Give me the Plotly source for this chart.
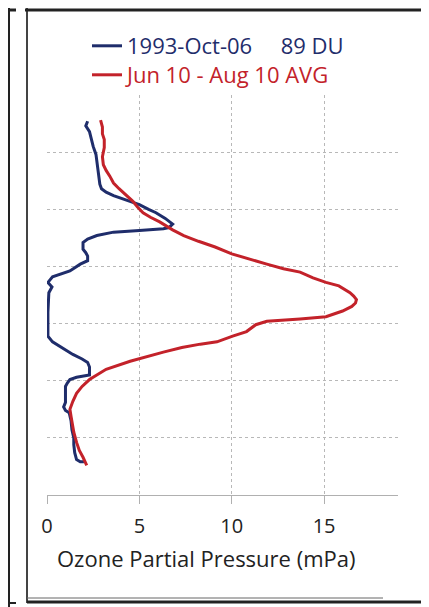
import plotly.graph_objects as go

# ---- data (altitude in km, ozone partial pressure in mPa) ----
oct_alt = [32.7, 32.3, 31.8, 31.1, 30.5, 29.8, 29.2, 28.5, 27.8, 27.2, 26.8, 26.5, 26.2, 25.9,
           25.6, 25.4, 25.0, 24.7, 24.2, 23.7, 23.4, 23.3, 23.15, 23.0, 22.7, 22.4, 22.1, 21.5,
           21.2, 20.9, 20.5, 20.2, 19.6, 19.3, 19.1, 18.6, 18.2, 17.7, 16.0, 14.5, 13.9, 13.4,
           13.2, 12.8, 12.3, 11.9, 11.6, 11.2, 10.8, 10.5, 10.3, 10.1, 9.8, 9.5, 8.8, 8.1, 7.7,
           7.4, 7.2, 6.5, 5.7, 5.0, 4.4, 3.7, 3.1, 2.9, 2.9]
oct_o3 = [2.2, 2.1, 2.3, 2.4, 2.5, 2.65, 2.7, 2.76, 2.8, 2.86, 2.95, 3.2, 3.6, 4.1,
          4.6, 5.0, 5.5, 5.9, 6.4, 6.8, 6.6, 6.3, 5.0, 3.6, 2.7, 2.2, 1.95, 1.95,
          2.1, 2.2, 2.2, 1.8, 1.24, 0.6, 0.3, 0.05, 0.27, 0.1, 0.05, 0.05, 0.05, 0.3,
          0.5, 0.9, 1.4, 1.9, 2.2, 2.3, 2.3, 2.3, 1.6, 1.24, 1.1, 1.0, 1.0, 1.0, 0.9,
          1.0, 1.2, 1.3, 1.35, 1.45, 1.45, 1.5, 1.6, 1.8, 2.0]

avg_alt = [32.8, 32.2, 31.6, 31.1, 30.4, 29.6, 28.9, 28.4, 27.9, 27.3, 26.8, 26.2, 25.7, 25.2,
           24.7, 24.3, 23.9, 23.2, 22.7, 22.2, 21.7, 21.1, 20.6, 20.2, 19.8, 19.5, 19.0, 18.6,
           18.3, 17.7, 17.4, 17.1, 16.8, 16.5, 16.1, 15.8, 15.6, 15.4, 15.3, 15.2, 14.9, 14.3,
           13.9, 13.4, 13.2, 12.9, 12.5, 12.1, 11.7, 11.0, 10.5, 10.1, 9.5, 8.9, 8.2, 7.5, 6.9,
           6.3, 5.5, 4.6, 3.9, 3.3, 2.6]
avg_o3 = [2.9, 3.0, 3.0, 3.1, 3.1, 3.0, 3.05, 3.2, 3.4, 3.6, 3.9, 4.3, 4.65, 4.9,
          5.2, 5.6, 6.1, 6.8, 7.4, 8.2, 9.1, 10.0, 11.0, 11.9, 12.8, 13.7, 14.4, 15.1,
          15.8, 16.4, 16.6, 16.75, 16.7, 16.5, 16.0, 15.5, 15.1, 13.7, 12.8, 11.9, 11.3, 10.8,
          10.05, 9.2, 8.3, 7.3, 6.3, 5.4, 4.5, 3.2, 2.7, 2.3, 1.9, 1.6, 1.4, 1.24, 1.3,
          1.35, 1.45, 1.6, 1.75, 1.95, 2.15]

x_ticks = [0, 5, 10, 15]
y_ticks = [0, 5, 10, 15, 20, 25, 30, 35]
x_title = "Ozone Partial Pressure (mPa)"

BLUE = "#1f2d6b"
RED = "#c3222a"
NB = "\u00a0"

fig = go.Figure()
fig.add_trace(go.Scatter(
    x=oct_o3, y=oct_alt, mode="lines", legend="legend", showlegend=True,
    line=dict(color=BLUE, width=3),
    name=f'<span style="color:{BLUE}">1993-Oct-06{NB*5}89 DU</span>'))
fig.add_trace(go.Scatter(
    x=avg_o3, y=avg_alt, mode="lines", legend="legend2", showlegend=True,
    line=dict(color=RED, width=3),
    name=f'<span style="color:{RED}">Jun 10 - Aug 10 AVG</span>'))

# page body has an 8px margin; the figure is sized to fill the rest
OFF = 8
W, H = 429 - OFF, 607 - OFF
L, R, T, B = 47, 398, 95, 495   # plot area in window pixels

def px(x):
    return (x - L) / (R - L)

def py(y):
    return (B - y) / (B - T)

shapes = []
def seg(x0, y0, x1, y1, w=2, c="#222"):
    shapes.append(dict(type="line", xref="paper", yref="paper",
                       x0=px(x0), y0=py(y0), x1=px(x1), y1=py(y1),
                       line=dict(color=c, width=w)))

# surrounding frames
seg(9, 0, 9, 607, 2)
seg(0, 10, 16, 10, 3)
seg(0, 603, 16, 603, 2)
seg(27, 4, 27, 603, 2, "#444")
seg(25, 10, 425, 10, 3)
seg(423, 4, 423, 603, 2, "#555")
seg(27, 598, 383, 598, 1, "#666")
seg(27, 602, 425, 602, 3)

legend_common = dict(xanchor="left", yanchor="top", font=dict(size=22),
                     bgcolor="rgba(0,0,0,0)", itemwidth=30, visible=True)

fig.update_layout(
    width=W, height=H,
    margin=dict(l=L - OFF, r=429 - R, t=T - OFF, b=607 - B),
    paper_bgcolor="white", plot_bgcolor="white",
    font=dict(family="Open Sans, sans-serif", color="#222"),
    shapes=shapes,
    showlegend=True,
    legend=dict(x=px(87), y=py(25), **legend_common),
    legend2=dict(x=px(87), y=py(54), **legend_common),
    annotations=[dict(text=x_title, xref="paper", yref="paper",
                      x=px(206), y=py(558), xanchor="center", yanchor="middle",
                      showarrow=False, font=dict(size=22, color="#222"))],
    xaxis=dict(range=[0, 19], tickvals=x_ticks, showgrid=True,
               gridcolor="#b8b8b8", griddash="dot", gridwidth=1,
               showline=True, linecolor="#b0b0b0", linewidth=1,
               ticks="outside", ticklen=8, tickcolor="#b0b0b0",
               ticklabelstandoff=5,
               tickfont=dict(size=20, color="#222"), zeroline=False),
    yaxis=dict(range=[0, 35], tickvals=y_ticks, showticklabels=False,
               showgrid=True, gridcolor="#b8b8b8", griddash="dot", gridwidth=1,
               showline=False, zeroline=False),
)

fig.write_html("out.html")
